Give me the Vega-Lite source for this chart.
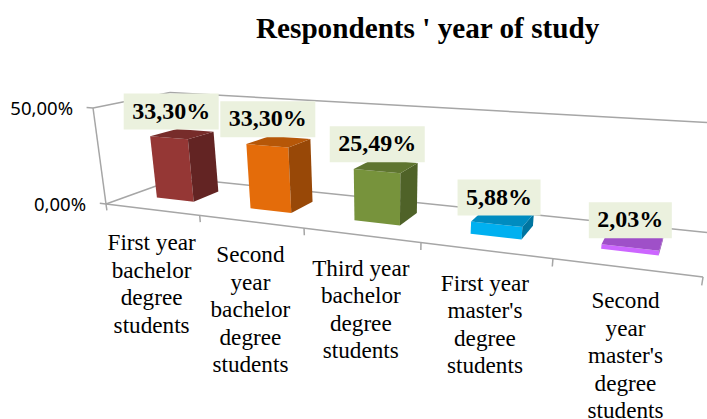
{
  "$schema": "https://vega.github.io/schema/vega-lite/v6.json",
  "autosize": "none",
  "padding": {"top": 50, "left": 0, "right": 0, "bottom": 0},
  "width": 707,
  "height": 369,
  "background": "white",
  "title": {"text": "Respondents ' year of study", "font": "Liberation Serif", "fontSize": 29.2, "fontWeight": "bold", "color": "#000000", "anchor": "start", "dx": 256, "offset": 6},
  "config": {"view": {"stroke": null}},
  "datasets": {
    "bars": [
      {"category": "First year|bachelor|degree|students", "value": 33.30},
      {"category": "Second|year|bachelor|degree|students", "value": 33.30},
      {"category": "Third year|bachelor|degree|students", "value": 25.49},
      {"category": "First year|master's|degree|students", "value": 5.88},
      {"category": "Second|year|master's|degree|students", "value": 2.03}
    ],
    "frame": [
      {"seg": "back top", "ord": 0, "u": 0, "d": 1, "v": 50},
      {"seg": "back top", "ord": 1, "u": 5, "d": 1, "v": 50},
      {"seg": "back floor", "ord": 0, "u": 0, "d": 1, "v": 0},
      {"seg": "back floor", "ord": 1, "u": 5, "d": 1, "v": 0},
      {"seg": "side top", "ord": 0, "u": 0, "d": 0, "v": 50},
      {"seg": "side top", "ord": 1, "u": 0, "d": 1, "v": 50},
      {"seg": "side floor", "ord": 0, "u": 0, "d": 0, "v": 0},
      {"seg": "side floor", "ord": 1, "u": 0, "d": 1, "v": 0},
      {"seg": "value axis", "ord": 0, "u": 0, "d": 0, "v": 0},
      {"seg": "value axis", "ord": 1, "u": 0, "d": 0, "v": 50},
      {"seg": "category axis", "ord": 0, "u": 0, "d": 0, "v": 0},
      {"seg": "category axis", "ord": 1, "u": 5, "d": 0, "v": 0},
      {"seg": "tick 0", "ord": 0, "u": 0, "d": 0, "v": 0},
      {"seg": "tick 0", "ord": 1, "u": 0, "d": 0, "v": -3.5},
      {"seg": "tick 1", "ord": 0, "u": 1, "d": 0, "v": 0},
      {"seg": "tick 1", "ord": 1, "u": 1, "d": 0, "v": -3.5},
      {"seg": "tick 2", "ord": 0, "u": 2, "d": 0, "v": 0},
      {"seg": "tick 2", "ord": 1, "u": 2, "d": 0, "v": -3.5},
      {"seg": "tick 3", "ord": 0, "u": 3, "d": 0, "v": 0},
      {"seg": "tick 3", "ord": 1, "u": 3, "d": 0, "v": -3.5},
      {"seg": "tick 4", "ord": 0, "u": 4, "d": 0, "v": 0},
      {"seg": "tick 4", "ord": 1, "u": 4, "d": 0, "v": -3.5},
      {"seg": "tick 5", "ord": 0, "u": 5, "d": 0, "v": 0},
      {"seg": "tick 5", "ord": 1, "u": 5, "d": 0, "v": -3.5},
      {"seg": "value tick 0", "ord": 0, "u": 0, "d": 0, "v": 0},
      {"seg": "value tick 0", "ord": 1, "u": -0.07, "d": 0, "v": 0},
      {"seg": "value tick 50", "ord": 0, "u": 0, "d": 0, "v": 50},
      {"seg": "value tick 50", "ord": 1, "u": -0.07, "d": 0, "v": 50}
    ],
    "valueTicks": [{"tick": 0}, {"tick": 50}]
  },
  "layer": [
    {
      "description": "Walls, floor and axis ticks, projected from chart coordinates",
      "data": {"name": "frame"},
      "transform": [
        {"calculate": "1-0.0511*datum.u+0.13*datum.d-0.0448*datum.v/50", "as": "w"},
        {"calculate": "106+(88.9*datum.u+81.8*datum.d-12.4*datum.v/50)/datum.w", "as": "px"},
        {"calculate": "204+(10.87*datum.u-29.38*datum.d-91.7*datum.v/50)/datum.w", "as": "py"}
      ],
      "mark": {"type": "line", "stroke": "#A6A6A6", "strokeWidth": 1.5, "clip": true},
      "encoding": {
        "x": {"field": "px", "type": "quantitative", "scale": {"domain": [0, 707], "nice": false, "zero": false}, "axis": null},
        "y": {"field": "py", "type": "quantitative", "scale": {"domain": [419, 50], "nice": false, "zero": false}, "axis": null},
        "detail": {"field": "seg"},
        "order": {"field": "ord"}
      }
    },
    {
      "description": "Three visible faces of each column: front, right side and top",
      "data": {"name": "bars"},
      "transform": [
        {"window": [{"op": "row_number", "as": "n"}]},
        {"calculate": "['front','front','front','front','side','side','side','side','top','top','top','top']", "as": "face"},
        {"calculate": "[0,1,2,3,0,1,2,3,0,1,2,3]", "as": "corner"},
        {"calculate": "[0,1,1,0,1,1,1,1,0,1,1,0]", "as": "pu"},
        {"calculate": "[0,0,0,0,0,1,1,0,0,0,1,1]", "as": "pd"},
        {"calculate": "[0,0,1,1,0,0,1,1,1,1,1,1]", "as": "pv"},
        {"flatten": ["face", "corner", "pu", "pd", "pv"]},
        {"calculate": "datum.n-1+0.285+0.405*datum.pu", "as": "u"},
        {"calculate": "0.33+0.37*datum.pd", "as": "d"},
        {"calculate": "datum.value*datum.pv", "as": "v"},
        {"calculate": "1-0.0511*datum.u+0.13*datum.d-0.0448*datum.v/50", "as": "w"},
        {"calculate": "106+(88.9*datum.u+81.8*datum.d-12.4*datum.v/50)/datum.w", "as": "px"},
        {"calculate": "204+(10.87*datum.u-29.38*datum.d-91.7*datum.v/50)/datum.w", "as": "py"},
        {"calculate": "datum.n+' '+datum.face", "as": "faceKey"}
      ],
      "mark": {"type": "line", "strokeWidth": 0, "clip": true},
      "encoding": {
        "x": {"field": "px", "type": "quantitative"},
        "y": {"field": "py", "type": "quantitative"},
        "order": {"field": "corner"},
        "fill": {
          "field": "faceKey",
          "type": "nominal",
          "legend": null,
          "scale": {
            "domain": ["1 front", "1 side", "1 top", "2 front", "2 side", "2 top", "3 front", "3 side", "3 top", "4 front", "4 side", "4 top", "5 front", "5 side", "5 top"],
            "range": ["#953735", "#632423", "#772C2A", "#E46C0A", "#984807", "#B65708", "#77933C", "#4F6228", "#5F7530", "#00B0F0", "#0075A0", "#008CC0", "#CC66FF", "#8844AA", "#9F50C8"]
          }
        }
      }
    },
    {
      "description": "Backing box behind each value label, sized from the label length",
      "data": {"name": "bars"},
      "transform": [
        {"window": [{"op": "row_number", "as": "n"}]},
        {"calculate": "replace(format(datum.value,'.2f'),'.',',')+'%'", "as": "label"},
        {"calculate": "1-0.0511*(datum.n-0.52)+0.13*0.5-0.0448*datum.value/50", "as": "w"},
        {"calculate": "106+(88.9*(datum.n-0.52)+81.8*0.5-12.4*datum.value/50)/datum.w-1-0.25*datum.value", "as": "px"},
        {"calculate": "204+(10.87*(datum.n-0.52)-29.38*0.5-91.7*datum.value/50)/datum.w-20-0.08*datum.value", "as": "py"},
        {"calculate": "(length(datum.label)*12+23)/2", "as": "half"},
        {"calculate": "datum.px-datum.half", "as": "x0"},
        {"calculate": "datum.px+datum.half", "as": "x1"},
        {"calculate": "datum.py-18", "as": "y0"},
        {"calculate": "datum.py+18", "as": "y1"}
      ],
      "mark": {"type": "rect", "fill": "#EBF1DE"},
      "encoding": {
        "x": {"field": "x0", "type": "quantitative"},
        "x2": {"field": "x1"},
        "y": {"field": "y0", "type": "quantitative"},
        "y2": {"field": "y1"}
      }
    },
    {
      "description": "Value labels",
      "data": {"name": "bars"},
      "transform": [
        {"window": [{"op": "row_number", "as": "n"}]},
        {"calculate": "replace(format(datum.value,'.2f'),'.',',')+'%'", "as": "label"},
        {"calculate": "1-0.0511*(datum.n-0.52)+0.13*0.5-0.0448*datum.value/50", "as": "w"},
        {"calculate": "106+(88.9*(datum.n-0.52)+81.8*0.5-12.4*datum.value/50)/datum.w-1-0.25*datum.value", "as": "px"},
        {"calculate": "204+(10.87*(datum.n-0.52)-29.38*0.5-91.7*datum.value/50)/datum.w-20-0.08*datum.value", "as": "py"}
      ],
      "mark": {"type": "text", "font": "Liberation Serif", "fontSize": 24, "fontWeight": "bold", "color": "#000000", "align": "center", "baseline": "middle"},
      "encoding": {
        "x": {"field": "px", "type": "quantitative"},
        "y": {"field": "py", "type": "quantitative"},
        "text": {"field": "label"}
      }
    },
    {
      "description": "Category labels hung below the front floor edge",
      "data": {"name": "bars"},
      "transform": [
        {"window": [{"op": "row_number", "as": "n"}]},
        {"calculate": "split(datum.category,'|')", "as": "lines"},
        {"calculate": "1-0.0511*(datum.n-0.5)", "as": "w"},
        {"calculate": "106+88.9*(datum.n-0.5)/datum.w", "as": "px"},
        {"calculate": "204+10.87*(datum.n-0.5)/datum.w", "as": "py"}
      ],
      "mark": {"type": "text", "font": "Liberation Serif", "fontSize": 23.2, "color": "#000000", "align": "center", "baseline": "top", "lineHeight": 27.5, "dy": 22.5},
      "encoding": {
        "x": {"field": "px", "type": "quantitative"},
        "y": {"field": "py", "type": "quantitative"},
        "text": {"field": "lines"}
      }
    },
    {
      "description": "Value axis labels",
      "data": {"name": "valueTicks"},
      "transform": [
        {"calculate": "replace(format(datum.tick,'.2f'),'.',',')+'%'", "as": "label"},
        {"calculate": "1-0.0448*datum.tick/50", "as": "w"},
        {"calculate": "106-12.4*(datum.tick/50)/datum.w", "as": "px"},
        {"calculate": "204-91.7*(datum.tick/50)/datum.w", "as": "py"}
      ],
      "mark": {"type": "text", "font": "Noto Sans", "fontSize": 18.5, "color": "#000000", "align": "right", "baseline": "middle", "dx": -20, "dy": 1},
      "encoding": {
        "x": {"field": "px", "type": "quantitative"},
        "y": {"field": "py", "type": "quantitative"},
        "text": {"field": "label"}
      }
    }
  ]
}
